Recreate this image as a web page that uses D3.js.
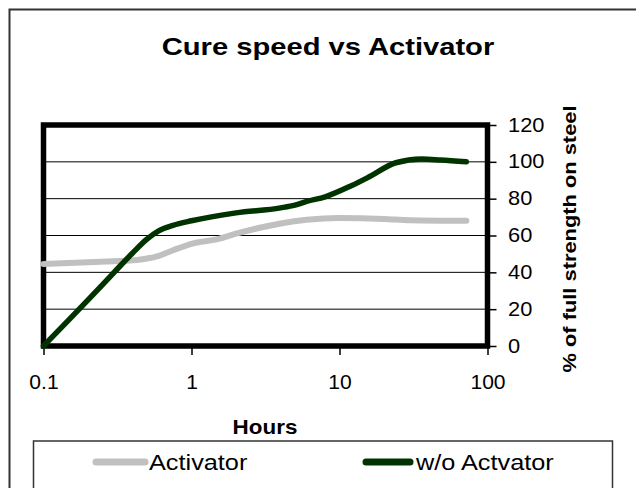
<!DOCTYPE html>
<html>
<head>
<meta charset="utf-8">
<script src="https://cdn.jsdelivr.net/npm/d3@7"></script>
<style>
  html, body { margin: 0; padding: 0; background: #fff; }
  svg { display: block; font-family: "Liberation Sans", Arial, sans-serif; }
</style>
</head>
<body>
<svg id="chart" width="636" height="488"></svg>
<script>
// ---- data ----
const title = "Cure speed vs Activator";
const xAxisTitle = "Hours";
const yAxisTitle = "% of full strength on steel";
const seriesNames = ["Activator", "w/o Actvator"];
const xTickValues = [0.1, 1, 10, 100];
const xTickLabels = ["0.1", "1", "10", "100"];
const yTickValues = [0, 20, 40, 60, 80, 100, 120];
const yTickLabels = ["0", "20", "40", "60", "80", "100", "120"];

const activatorHours = [0.1, 0.2, 0.3, 0.4, 0.5, 0.6, 0.75, 1, 1.5, 2, 3, 4, 6, 10, 20, 30, 72];
const activatorValues = [44.5, 45.5, 46, 46.5, 47.5, 49, 52, 55.5, 58, 61, 64.5, 66.5, 68.5, 69.5, 69, 68.3, 68];

const withoutHours = [0.1, 0.2, 0.3, 0.4, 0.5, 0.6, 0.75, 1, 2, 4, 5, 6, 8, 12, 16, 24, 36, 48, 72];
const withoutValues = [0, 25, 40, 50.5, 58, 62.5, 65.5, 68, 72.3, 75, 76.5, 78.5, 81, 87, 92, 99.5, 101.5, 101, 100];

// ---- drawing ----
const svg = d3.select("#chart");
const colors = ["#c0c0c0", "#003300"];

const x = d3.scaleLog().domain([0.1, 100]).range([43.5, 487.5]);
const y = d3.scaleLinear().domain([0, 120]).range([346, 125]);

// outer frame
svg.append("rect")
  .attr("x", 9.5).attr("y", 9.5).attr("width", 700).attr("height", 700)
  .attr("fill", "none").attr("stroke", "#333").attr("stroke-width", 2);

// title
svg.append("text")
  .attr("transform", "translate(328,54.5) scale(1.19,1)")
  .attr("text-anchor", "middle")
  .attr("font-size", 24.5).attr("font-weight", "bold").attr("fill", "#000")
  .text(title);

// gridlines
svg.append("g").selectAll("line")
  .data(yTickValues.filter(v => v > 0 && v < 120))
  .join("line")
  .attr("x1", x.range()[0]).attr("x2", x.range()[1])
  .attr("y1", d => y(d)).attr("y2", d => y(d))
  .attr("stroke", "#000").attr("stroke-width", 1);

// x axis
const xAxis = svg.append("g")
  .attr("transform", `translate(0,${y(0)})`)
  .call(d3.axisBottom(x).tickValues(xTickValues)
    .tickFormat((d, i) => xTickLabels[i]).tickSize(9).tickSizeOuter(0));
xAxis.select(".domain").remove();
xAxis.selectAll(".tick line").attr("stroke", "#000").attr("stroke-width", 1.5);
xAxis.selectAll(".tick text")
  .attr("y", 0).attr("dy", 0)
  .attr("transform", "translate(0,43.3) scale(1.08,1)")
  .attr("font-size", 19.5).attr("font-family", "Liberation Sans, Arial, sans-serif")
  .attr("fill", "#000");

// y axis (right)
const yAxis = svg.append("g")
  .attr("transform", `translate(${x(100)},0)`)
  .call(d3.axisRight(y).tickValues(yTickValues)
    .tickFormat((d, i) => yTickLabels[i]).tickSize(9).tickSizeOuter(0));
yAxis.select(".domain").remove();
yAxis.selectAll(".tick line").attr("stroke", "#000").attr("stroke-width", 1.5);
yAxis.selectAll(".tick text")
  .attr("x", 0).attr("dy", 0)
  .attr("transform", "translate(20.5,6) scale(1.12,1)")
  .attr("font-size", 19.5).attr("font-family", "Liberation Sans, Arial, sans-serif")
  .attr("fill", "#000");

// plot area border
svg.append("rect")
  .attr("x", x.range()[0]).attr("y", y(120))
  .attr("width", x.range()[1] - x.range()[0]).attr("height", y(0) - y(120))
  .attr("fill", "none").attr("stroke", "#000").attr("stroke-width", 5.5);

// lines
const line = d3.line().x(d => x(d[0])).y(d => y(d[1])).curve(d3.curveMonotoneX);
const series = [
  activatorHours.map((h, i) => [h, activatorValues[i]]),
  withoutHours.map((h, i) => [h, withoutValues[i]])
];
const widths = [6, 5.5];
series.forEach((s, i) => {
  svg.append("path")
    .attr("d", line(s))
    .attr("fill", "none").attr("stroke", colors[i])
    .attr("stroke-width", widths[i])
    .attr("stroke-linecap", "round").attr("stroke-linejoin", "round");
});

// axis titles
svg.append("text")
  .attr("transform", "translate(265,434) scale(1.15,1)")
  .attr("text-anchor", "middle")
  .attr("font-size", 19.5).attr("font-weight", "bold").attr("fill", "#000")
  .text(xAxisTitle);

svg.append("text")
  .attr("transform", "translate(576,239) rotate(-90) scale(1.15,1)")
  .attr("text-anchor", "middle")
  .attr("font-size", 19).attr("font-weight", "bold").attr("fill", "#000")
  .text(yAxisTitle);

// legend
svg.append("rect")
  .attr("x", 33.5).attr("y", 441).attr("width", 579).attr("height", 80)
  .attr("fill", "none").attr("stroke", "#333").attr("stroke-width", 1.5);

const legendItems = [
  { x1: 93, x2: 148, tx: 149 },
  { x1: 363, x2: 413, tx: 416 }
];
legendItems.forEach((it, i) => {
  svg.append("line")
    .attr("x1", it.x1 + 3).attr("x2", it.x2 - 3).attr("y1", 462).attr("y2", 462)
    .attr("stroke", colors[i]).attr("stroke-width", 7).attr("stroke-linecap", "round");
  svg.append("text")
    .attr("transform", `translate(${it.tx},469.5) scale(1.15,1)`)
    .attr("font-size", 22).attr("fill", "#000")
    .text(seriesNames[i]);
});
</script>
</body>
</html>
